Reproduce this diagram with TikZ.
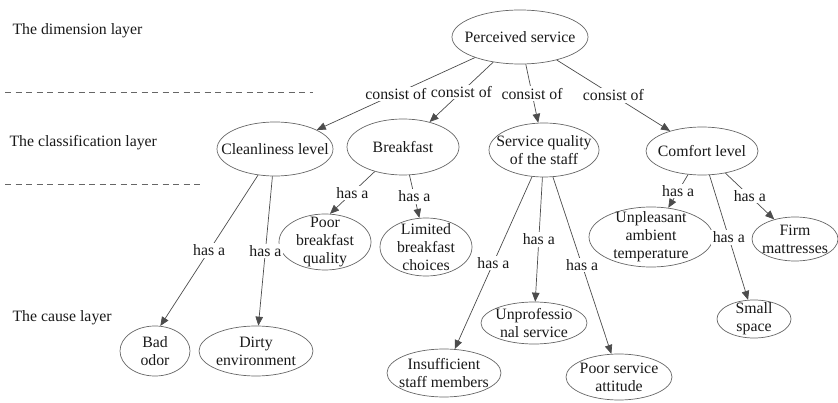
\documentclass[tikz,border=0pt]{standalone}
\usepackage{fontspec}
\setmainfont{Liberation Serif}
\usetikzlibrary{shapes.geometric, arrows.meta}

\begin{document}
\begin{tikzpicture}[
  x=1pt, y=-1pt,
  font=\fontsize{15.8}{18}\selectfont,
  concept/.style={
    ellipse,
    draw=black!60,
    line width=0.7pt,
    inner sep=-25pt,
    align=center,
    text=black!90,
  },
  rel/.style={
    draw=black!70,
    line width=0.7pt,
    -{Triangle[length=9pt,width=7.5pt]},
  },
  rellabel/.style={fill=white, inner sep=1.5pt, text=black!90},
  layer/.style={anchor=west, text=black!90},
  divider/.style={draw=black!60, line width=0.6pt, dash pattern=on 6pt off 4.5pt},
]
\useasboundingbox (0,0) rectangle (838,403);

% --- layers ---
\node[layer] (dimlayer) at (9,31) {The dimension layer};
\node[layer] (classlayer) at (6,143) {The classification layer};
\node[layer] (causelayer) at (9,318) {The cause layer};
\coordinate (divAw) at (5,92);
\coordinate (divAe) at (313,92);
\coordinate (divBw) at (5,184);
\coordinate (divBe) at (202,184);
\draw[divider] (divAw) -- (divAe);
\draw[divider] (divBw) -- (divBe);

% --- dimension ---
\node[concept, minimum width=136pt, minimum height=54pt] (perceived) at (520,37) {Perceived service};

% --- classification ---
\node[concept, minimum width=116pt, minimum height=54pt] (clean) at (275,149) {Cleanliness level};
\node[concept, minimum width=112pt, minimum height=56pt] (breakfast) at (403,147) {Breakfast};
\node[concept, minimum width=110pt, minimum height=54pt] (staff) at (544,150) {Service quality\\of the staff};
\node[concept, minimum width=112pt, minimum height=48pt] (comfort) at (702,151) {Comfort level};

% --- causes ---
\node[concept, minimum width=70pt, minimum height=50pt] (badodor) at (155,351) {Bad\\odor};
\node[concept, minimum width=114pt, minimum height=50pt] (dirty) at (256,351) {Dirty\\environment};
\node[concept, minimum width=92pt, minimum height=56pt] (poorbf) at (325,242) {Poor\\breakfast\\quality};
\node[concept, minimum width=92pt, minimum height=58pt] (limited) at (426,247) {Limited\\breakfast\\choices};
\node[concept, minimum width=114pt, minimum height=48pt] (insufficient) at (444,373) {Insufficient\\staff members};
\node[concept, minimum width=106pt, minimum height=42pt] (unprof) at (534,323) {Unprofessio\\nal service};
\node[concept, minimum width=106pt, minimum height=46pt] (attitude) at (619,377) {Poor service\\attitude};
\node[concept, minimum width=124pt, minimum height=60pt] (unpleasant) at (651,237) {Unpleasant\\ambient\\temperature};
\node[concept, minimum width=74pt, minimum height=38pt] (small) at (754,319) {Small\\space};
\node[concept, minimum width=86pt, minimum height=44pt] (firm) at (795,239) {Firm\\mattresses};

% dimension -> classification
\draw[rel] (perceived) -- node[rellabel] {consist of} (clean);
\draw[rel] (perceived) -- node[rellabel] {consist of} (breakfast);
\draw[rel] (perceived) -- node[rellabel] {consist of} (staff);
\draw[rel] (perceived) -- node[rellabel] {consist of} (comfort);

% classification -> cause
\draw[rel] (clean.237) -- node[rellabel] {has a} (badodor.78);
\draw[rel] (clean) -- node[rellabel] {has a} (dirty);
\draw[rel] (breakfast.221) -- node[rellabel] {has a} (poorbf.80);
\draw[rel] (breakfast) -- node[rellabel] {has a} (limited);
\draw[rel] (staff) -- node[rellabel] {has a} (insufficient);
\draw[rel] (staff) -- node[rellabel] {has a} (unprof);
\draw[rel] (staff) -- node[rellabel] {has a} (attitude);
\draw[rel] (comfort) -- node[rellabel] {has a} (unpleasant);
\draw[rel] (comfort) -- node[rellabel] {has a} (small);
\draw[rel] (comfort) -- node[rellabel] {has a} (firm);
\end{tikzpicture}
\end{document}
